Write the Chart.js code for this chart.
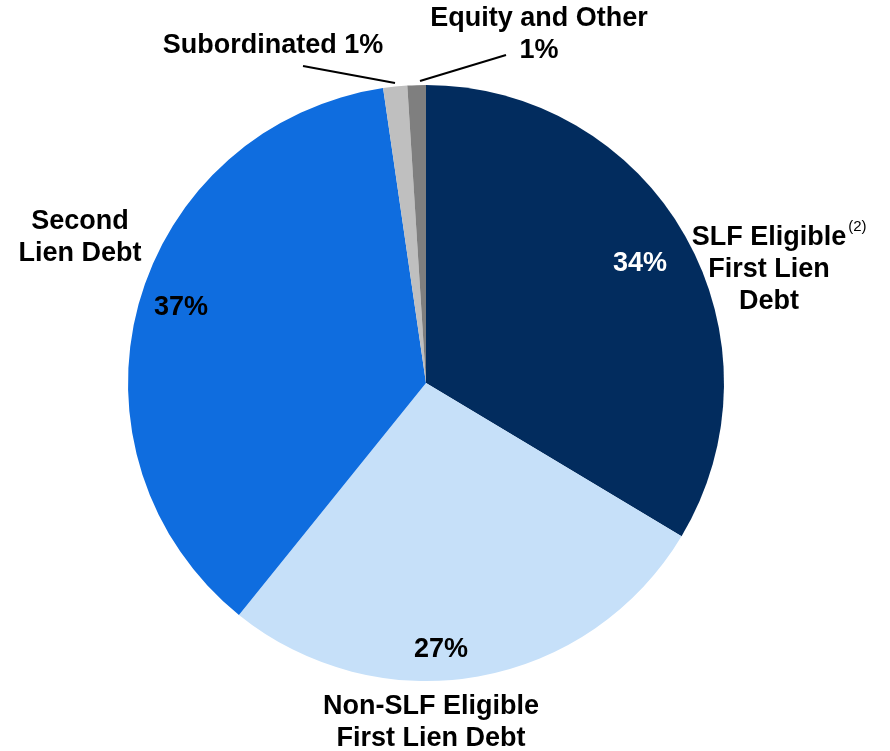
<!DOCTYPE html>
<html>
<head>
<meta charset="utf-8">
<script src="https://cdn.jsdelivr.net/npm/chart.js@4/dist/chart.umd.min.js"></script>
<style>
  html, body { margin: 0; padding: 0; background: #fff; }
  #wrap { width: 890px; height: 751px; }
</style>
</head>
<body>
<div id="wrap"><canvas id="pie"></canvas></div>
<script>
// data (clockwise from 12 o'clock)
const categories = ['SLF Eligible First Lien Debt', 'Non-SLF Eligible First Lien Debt', 'Second Lien Debt', 'Subordinated', 'Equity and Other'];
const shares = [33.6, 27.2, 36.9, 1.3, 1.0];
const pctLabels = ['34%', '27%', '37%', '1%', '1%'];
const pieColors = ['#022c5e', '#c6e0f9', '#0f6ddf', '#bfbfbf', '#7f7f7f'];

// text placement
const FONT = 'bold 27px "Liberation Sans", Arial, sans-serif';
const innerText = [
  { i: 0, x: 640, y: 264, color: '#fff' },
  { i: 1, x: 441, y: 650, color: '#000' },
  { i: 2, x: 181, y: 308, color: '#000' }
];
const outerText = [
  { lines: ['SLF Eligible', 'First Lien', 'Debt'], x: 769, y: 238, sup: '(2)' },
  { lines: ['Non-SLF Eligible', 'First Lien Debt'], x: 431, y: 707 },
  { lines: ['Second', 'Lien Debt'], x: 80, y: 222 },
  { lines: ['Subordinated 1%'], x: 273, y: 46 },
  { lines: ['Equity and Other', '1%'], x: 539, y: 19 }
];
const leaders = [
  [303, 66, 395, 83],
  [506, 55, 420, 81]
];

const labelPlugin = {
  id: 'labels',
  afterDraw(chart) {
    const ctx = chart.ctx;
    ctx.save();
    ctx.textAlign = 'center';
    ctx.textBaseline = 'middle';
    ctx.font = FONT;
    innerText.forEach(t => {
      ctx.fillStyle = t.color;
      ctx.fillText(pctLabels[t.i], t.x, t.y);
    });
    ctx.fillStyle = '#000';
    outerText.forEach(t => {
      t.lines.forEach((ln, k) => ctx.fillText(ln, t.x, t.y + k * 32));
      if (t.sup) {
        const w = ctx.measureText(t.lines[0]).width;
        ctx.save();
        ctx.font = '15px "Liberation Sans", Arial, sans-serif';
        ctx.textAlign = 'left';
        ctx.fillText(t.sup, t.x + w / 2 + 2, t.y - 11);
        ctx.restore();
      }
    });
    ctx.strokeStyle = '#000';
    ctx.lineWidth = 2;
    leaders.forEach(l => {
      ctx.beginPath();
      ctx.moveTo(l[0], l[1]);
      ctx.lineTo(l[2], l[3]);
      ctx.stroke();
    });
    ctx.restore();
  }
};

new Chart(document.getElementById('pie'), {
  type: 'pie',
  data: {
    labels: categories,
    datasets: [{
      data: shares,
      backgroundColor: pieColors,
      borderWidth: 0
    }]
  },
  options: {
    responsive: true,
    maintainAspectRatio: false,
    animation: false,
    layout: { padding: { top: 85, bottom: 70, left: 128, right: 166 } },
    plugins: {
      legend: { display: false },
      tooltip: { enabled: false }
    }
  },
  plugins: [labelPlugin]
});
</script>
</body>
</html>
